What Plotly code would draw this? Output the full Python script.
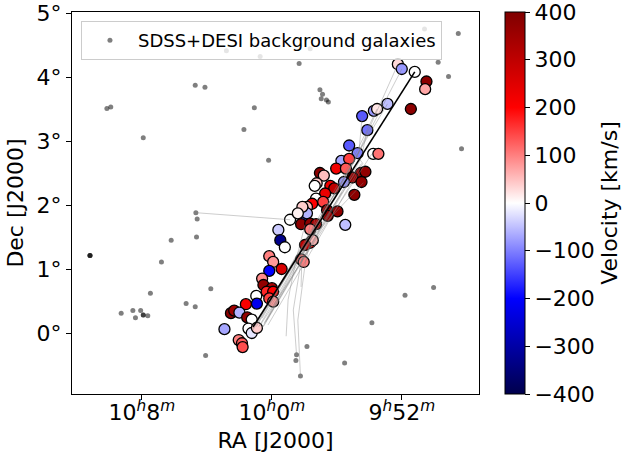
import plotly.graph_objects as go

# ---------------- data ----------------
# background galaxies (RA deg, Dec deg)
bg_ra = [152.54, 152.48, 151.98, 151.18, 151.03, 150.70, 150.18, 149.58, 149.41, 150.27,
         150.43, 150.05, 151.17, 151.15, 149.26, 149.22, 149.24, 149.16, 149.13, 147.13,
         147.65, 147.44, 147.28, 147.08, 152.80, 152.80, 152.80, 151.16, 151.55, 151.70,
         151.87, 150.94, 151.32, 151.18, 152.32, 152.14, 152.10, 152.02, 151.98, 151.98,
         151.91, 151.02, 149.46, 149.62, 149.63, 149.56, 147.51, 147.95, 148.46, 148.88]
bg_dec = [3.51, 3.53, 3.05, 3.87, 3.84, 4.41, 4.32, 4.21, 4.44, 3.52,
          3.18, 2.70, 1.88, 1.78, 3.80, 3.73, 3.66, 3.64, 3.61, 4.68,
          4.75, 4.23, 4.01, 2.88, 1.21, 1.21, 1.21, 1.50, 1.45, 1.11,
          0.62, 0.69, 0.46, 0.41, 0.31, 0.35, 0.24, 0.35, 0.28, 0.28,
          0.27, -0.35, -0.21, -0.34, -0.43, -0.67, 0.71, 0.59, 0.16, -0.47]

# group galaxies with line-of-sight velocity (km/s)
gal_ra = [148.06, 148.00, 147.80, 147.62, 147.64, 147.86, 148.22, 148.43, 148.38, 148.61,
          148.53, 148.81, 148.68, 148.44, 148.36, 148.93, 148.81, 149.01, 148.86, 149.26,
          149.20, 148.63, 148.56, 148.76, 148.62, 148.89, 149.31, 149.34, 149.10, 149.04,
          149.18, 148.73, 149.32, 149.38, 149.46, 149.52, 149.21, 149.15, 148.99, 149.72,
          148.87, 149.51, 149.46, 149.55, 149.41, 149.32, 149.14, 149.41, 149.90, 149.87,
          149.80, 149.41, 149.37, 149.49, 149.55, 149.51, 150.04, 149.98, 150.04, 149.85,
          150.15, 150.13, 150.00, 150.08, 149.98, 150.04, 149.98, 150.24, 150.23, 150.40,
          150.63, 150.58, 150.50, 150.38, 150.31, 150.73, 150.36, 150.31, 150.23, 150.51,
          150.46, 150.45, 149.53, 149.60]
gal_dec = [4.20, 4.125, 4.08, 3.93, 3.81, 3.50, 3.58, 3.47, 3.50, 3.39,
           3.17, 2.93, 2.81, 2.80, 2.80, 2.69, 2.72, 2.57, 2.57, 2.50,
           2.46, 2.50, 2.52, 2.43, 2.36, 2.36, 2.34, 2.30, 2.30, 2.26,
           2.18, 2.16, 2.10, 2.02, 1.97, 1.93, 2.05, 1.92, 1.90, 1.77,
           1.69, 1.82, 1.87, 1.70, 1.71, 1.70, 1.83, 1.62, 1.61, 1.45,
           1.34, 1.41, 1.45, 1.375, 1.15, 1.11, 1.20, 1.11, 0.97, 1.00,
           0.85, 0.75, 0.70, 0.645, 0.645, 0.54, 0.49, 0.58, 0.46, 0.45,
           0.31, 0.35, 0.32, 0.245, 0.21, 0.06, 0.07, 0.00, 0.08, -0.11,
           -0.16, -0.22, 1.97, 1.87]
gal_vel = [30, -80, 0, 380, 70, 380, -50, -80, 20, -130,
           -110, -130, -100, 0, 110, -70, 150, 220, 130, 380,
           50, 370, 370, 360, 370, -80, 40, 0, 220, 300,
           230, 380, 0, 200, 50, 0, 150, 370, 370, 0,
           -50, -150, -60, 380, 380, 330, 370, 100, -40, -330,
           0, 200, 60, 300, 120, 100, 100, 80, -200, 260,
           90, 370, 330, 170, 200, 150, 80, 0, -220, 210,
           380, 350, -60, 370, 0, -70, 0, -20, 40, 100,
           130, 140, 40, 10]

# best-fit filament axis
axis_ra = [150.29, 147.80]
axis_dec = [0.094, 4.08]

# model tracks (thin grey lines)
tracks = [
    ([151.17, 149.72], [1.88, 1.77]),
    ([150.26, 148.72, 148.06], [0.125, 2.70, 4.20]),
    ([150.21, 148.70, 148.00], [0.17, 2.75, 4.125]),
    ([150.15, 148.68, 148.22], [0.23, 2.80, 3.58]),
    ([150.29, 148.72, 148.38], [0.05, 2.78, 3.50]),
    ([150.10, 148.66, 148.61], [0.17, 2.82, 3.39]),
    ([150.15, 148.63, 148.53], [0.08, 2.72, 3.17]),
    ([150.06, 148.60, 148.81], [0.125, 2.65, 2.93]),
    ([150.20, 148.87], [0.10, 2.39]),
    ([150.12, 149.10], [0.15, 2.08]),
    ([150.18, 148.46], [0.12, 2.80]),
    ([150.24, 148.78], [0.10, 2.60]),
    ([150.13, 148.70], [0.10, 2.55]),
    ([150.22, 148.62], [0.20, 2.65]),
    ([150.08, 148.92], [0.20, 2.20]),
    ([149.49, 149.63, 149.75, 149.78], [1.69, 1.14, 0.52, -0.05]),
    ([149.41, 149.56, 149.67, 149.62], [1.69, 1.06, 0.36, -0.34]),
    ([149.34, 149.49, 149.60, 149.56], [1.77, 1.06, 0.20, -0.67]),
    ([149.45, 149.54, 149.55], [1.45, 1.11, 0.72]),
    ([149.56, 148.59], [1.30, 2.35]),
]

x_tickvals = [152, 150, 148]
x_ticktext = ["10<sup><i>h</i></sup>8<sup><i>m</i></sup>",
              "10<sup><i>h</i></sup>0<sup><i>m</i></sup>",
              "9<sup><i>h</i></sup>52<sup><i>m</i></sup>"]
cbar_ticks = [-400, -300, -200, -100, 0, 100, 200, 300, 400]

seismic = [[0.0, "rgb(0,0,76)"], [0.25, "rgb(0,0,255)"], [0.5, "rgb(255,255,255)"],
           [0.75, "rgb(255,0,0)"], [1.0, "rgb(127,0,0)"]]

FONT = "DejaVu Sans"

fig = go.Figure()

fig.add_trace(go.Scatter(
    x=bg_ra, y=bg_dec, mode="markers",
    marker=dict(size=5, color="rgba(0,0,0,0.5)", line=dict(width=0)),
    name="SDSS+DESI background galaxies", showlegend=True))

fig.add_trace(go.Scatter(
    x=gal_ra, y=gal_dec, mode="markers", showlegend=False,
    marker=dict(size=11, color=gal_vel, colorscale=seismic, cmin=-400, cmax=400,
                line=dict(color="black", width=1.3),
                colorbar=dict(
                    thickness=20, len=1, lenmode="fraction", y=0.5, yanchor="middle",
                    x=1.064, xanchor="left", xpad=0, ypad=0,
                    outlinecolor="black", outlinewidth=1,
                    tickvals=cbar_ticks, ticks="outside", ticklen=5, tickwidth=1,
                    tickcolor="black", ticklabeloverflow="allow",
                    tickfont=dict(size=22, family=FONT, color="black"),
                    title=dict(text="Velocity [km/s]", side="right",
                               font=dict(size=22, family=FONT, color="black")),
                ))))

for tr_x, tr_y in tracks:
    fig.add_trace(go.Scatter(x=tr_x, y=tr_y, mode="lines", showlegend=False,
                             line=dict(color="rgba(130,130,130,0.4)", width=1),
                             hoverinfo="skip"))

fig.add_trace(go.Scatter(x=axis_ra, y=axis_dec, mode="lines", showlegend=False,
                         line=dict(color="black", width=1.6)))

fig.update_layout(
    width=622, height=458,
    margin=dict(l=72, r=143, t=12, b=64, autoexpand=False),
    paper_bgcolor="white", plot_bgcolor="white",
    font=dict(family=FONT, size=22, color="black"),
    legend=dict(x=0.022, y=0.976, xanchor="left", yanchor="top", itemwidth=46,
                bgcolor="rgba(255,255,255,0.8)", bordercolor="#cccccc", borderwidth=1,
                font=dict(size=18, family=FONT, color="black")),
    xaxis=dict(range=[153.077, 146.811], tickvals=x_tickvals, ticktext=x_ticktext,
               automargin=False, ticklabeloverflow="allow", ticklabelstandoff=-6,
               showgrid=False, zeroline=False, showline=True, mirror=True,
               linecolor="black", linewidth=1, ticks="outside", ticklen=5,
               tickcolor="black", tickfont=dict(size=22),
               title=dict(text="RA [J2000]", font=dict(size=22), standoff=8)),
    yaxis=dict(range=[-0.953, 5.016], dtick=1, tick0=0, ticksuffix="°",
               automargin=False, ticklabeloverflow="allow",
               showgrid=False, zeroline=False, showline=True, mirror=True,
               linecolor="black", linewidth=1, ticks="outside", ticklen=5,
               tickcolor="black", tickfont=dict(size=22),
               title=dict(text="Dec [J2000]", font=dict(size=22), standoff=6)),
)

fig.write_html("out.html", config={"displayModeBar": False},
               post_script="document.body.style.margin='0';document.body.style.overflow='hidden';")
